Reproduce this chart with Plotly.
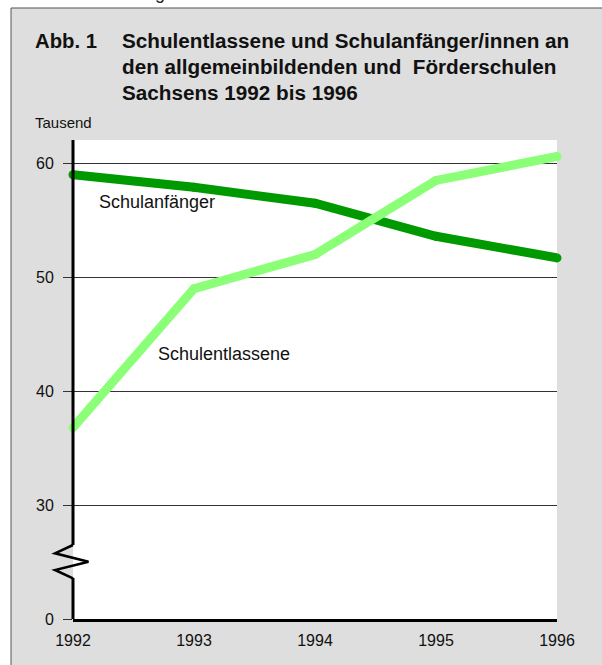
import plotly.graph_objects as go

# ---- data ----
years = [1992, 1993, 1994, 1995, 1996]
schulanfaenger = [59.0, 57.9, 56.5, 53.6, 51.7]      # Tausend
schulentlassene = [36.8, 49.0, 52.0, 58.5, 60.6]     # Tausend
y_tickvals = [20, 30, 40, 50, 60]    # axis is broken: position 20 represents 0
y_ticktext = ["0", "30", "40", "50", "60"]
x_tickvals = years
x_ticktext = ["1992", "1993", "1994", "1995", "1996"]

W, H = 602, 665
L, R, T, B = 73, 557, 140, 619
PW, PH = R - L, B - T
Y0, Y1 = 20, 62.05

def px(x):
    return (x - L) / PW

def py(y):
    return (B - y) / PH

FONT = "Liberation Sans, Arial, sans-serif"
DARK = "#009A00"
LIGHT = "#8CFF78"

fig = go.Figure()
fig.add_trace(go.Scatter(x=years, y=schulanfaenger, mode="lines+markers",
                         line=dict(color=DARK, width=9),
                         marker=dict(color=DARK, size=9, line=dict(width=0)),
                         cliponaxis=False, hoverinfo="skip"))
fig.add_trace(go.Scatter(x=years, y=schulentlassene, mode="lines+markers",
                         line=dict(color=LIGHT, width=9),
                         marker=dict(color=LIGHT, size=9, line=dict(width=0)),
                         cliponaxis=False, hoverinfo="skip"))

shapes = [
    # gray frame (fill only; border drawn on left and top)
    dict(type="rect", xref="paper", yref="paper", x0=px(11), x1=px(640),
         y0=py(700), y1=py(8), fillcolor="#DEDEDE",
         line=dict(width=0), layer="below"),
    dict(type="line", xref="paper", yref="paper", x0=px(11), x1=px(640),
         y0=py(8), y1=py(8), line=dict(color="#555555", width=1), layer="below"),
    dict(type="line", xref="paper", yref="paper", x0=px(11), x1=px(11),
         y0=py(8), y1=py(700), line=dict(color="#555555", width=1), layer="below"),
    # white plot area
    dict(type="rect", xref="paper", yref="paper", x0=0, x1=1, y0=0, y1=1,
         fillcolor="white", line=dict(width=0), layer="below"),
    # y axis with break
    dict(type="line", xref="paper", yref="y", x0=0, x1=0, y0=Y0, y1=23.6,
         line=dict(color="black", width=3)),
    dict(type="line", xref="paper", yref="y", x0=0, x1=0, y0=26.5, y1=Y1,
         line=dict(color="black", width=3)),
    dict(type="path", xref="paper", yref="paper",
         path="M {a},{y1} L {b},{y2} L {c},{y3} L {b},{y4} L {a},{y5}".format(
             a=px(73), b=px(55), c=px(88.5),
             y1=py(545), y2=py(553.3), y3=py(561.7), y4=py(570), y5=py(578.3)),
         line=dict(color="black", width=2.5)),
]
fig.update_layout(shapes=shapes)

ann = []
ann.append(dict(text="g", x=px(153), y=py(5), xref="paper", yref="paper",
                xanchor="left", yanchor="bottom", showarrow=False,
                font=dict(family=FONT, size=18, color="#222")))
ann.append(dict(text="<b>Abb. 1</b>", x=px(33), y=py(40.5), xref="paper", yref="paper",
                xanchor="left", yanchor="middle", showarrow=False,
                font=dict(family=FONT, size=20.3, color="#111")))
for txt, yy in [("Schulentlassene und Schulanfänger/innen an", 40.5),
                ("den allgemeinbildenden und \u00a0Förderschulen", 66.8),
                ("Sachsens 1992 bis 1996", 93)]:
    ann.append(dict(text="<b>" + txt + "</b>", x=px(119.5), y=py(yy), xref="paper",
                    yref="paper", xanchor="left", yanchor="middle", showarrow=False,
                    font=dict(family=FONT, size=20.7, color="#111")))
ann.append(dict(text="Tausend", x=px(33), y=py(122), xref="paper", yref="paper",
                xanchor="left", yanchor="middle", showarrow=False,
                font=dict(family=FONT, size=15, color="#111")))
ann.append(dict(text="Schulanfänger", x=1992.2, y=56.6, xref="x", yref="y",
                xanchor="left", yanchor="middle", showarrow=False,
                font=dict(family=FONT, size=18, color="#111")))
ann.append(dict(text="Schulentlassene", x=1992.69, y=43.3, xref="x", yref="y",
                xanchor="left", yanchor="middle", showarrow=False,
                font=dict(family=FONT, size=18, color="#111")))
fig.update_layout(annotations=ann)

fig.update_layout(
    width=W, height=H,
    margin=dict(l=L, r=W - R, t=T, b=H - B, pad=0),
    paper_bgcolor="white", plot_bgcolor="white",
    showlegend=False,
    font=dict(family=FONT, color="#111"),
    xaxis=dict(range=[1992, 1996], tickvals=x_tickvals, ticktext=x_ticktext,
               showgrid=False, zeroline=False, showline=True, linecolor="black",
               linewidth=3, ticks="", tickfont=dict(size=16, color="#111"),
               ticklabelstandoff=5),
    yaxis=dict(range=[Y0, Y1], tickvals=y_tickvals, ticktext=y_ticktext,
               showgrid=True, gridcolor="#333333", gridwidth=1, zeroline=False,
               showline=False, ticks="outside", ticklen=9, tickcolor="#333333",
               tickwidth=1, tickfont=dict(size=16, color="#111"),
               ticklabelstandoff=6),
)

fig.write_html("out.html")
